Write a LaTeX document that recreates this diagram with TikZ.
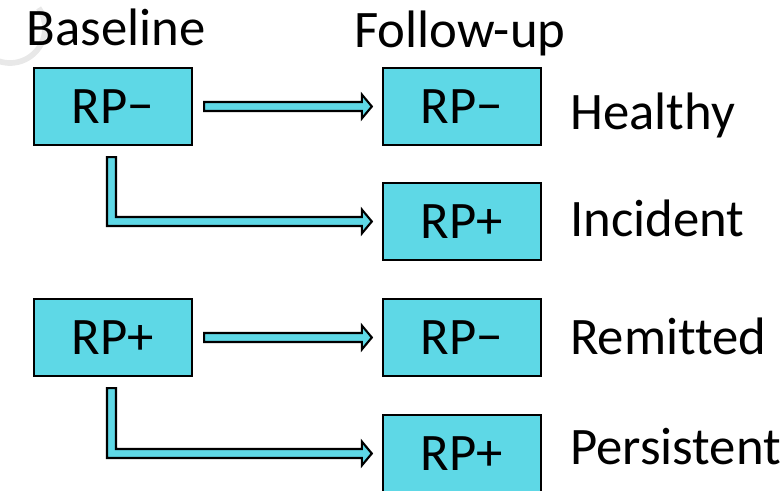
\documentclass[tikz,border=0pt]{standalone}
\usepackage{fontspec}
\setmainfont{Carlito}[Ligatures=NoCommon]
\usetikzlibrary{calc}
\definecolor{rpcyan}{RGB}{94,216,230}

\begin{document}
\begin{tikzpicture}

  % Definitions
  \tikzstyle{rp} = [rectangle, minimum width=4.74cm, minimum height=2.31cm, text centered, draw=black, line width=2pt, fill=rpcyan, font=\fontsize{45}{52}\selectfont]
  \tikzstyle{head} = [font=\fontsize{45}{52}\selectfont, inner sep=0pt]
  \tikzstyle{lab} = [font=\fontsize{45}{52}\selectfont, inner sep=0pt]
  \tikzstyle{blk} = [draw=black, line width=1.8pt, fill=rpcyan, line join=miter]

  \useasboundingbox (-3.39,3.195) rectangle (20.04,-11.535);

  % faint mark in the corner
  \draw [gray!18, line width=0.17cm] (-3.09,2.355) ++(250:1.05) arc (250:395:1.05);

  \node (b1) [rp] {RP−};
  \node (f1) [rp, right of=b1, xshift=9.47cm] {RP−};
  \node (f2) [rp, below of=f1, yshift=-2.45cm] {RP+};
  \node (f3) [rp, below of=f2, yshift=-2.48cm] {RP−};
  \node (f4) [rp, below of=f3, yshift=-2.48cm] {RP+};
  \node (b3) [rp, left of=f3, xshift=-9.47cm] {RP+};

  \node (base) [head, above of=b1, anchor=base, xshift=0.1cm, yshift=0.815cm] {Baseline};
  \node (foll) [head, above of=f1, anchor=base, xshift=-0.06cm, yshift=0.77cm] {Follow-up};

  \node (healthy) [lab, right of=f1, anchor=base west, xshift=2.24cm, yshift=-0.705cm] {Healthy};
  \node (incident) [lab, right of=f2, anchor=base west, xshift=2.24cm, yshift=-0.465cm] {Incident};
  \node (remitted) [lab, right of=f3, anchor=base west, xshift=2.24cm, yshift=-0.525cm] {Remitted};
  \node (persist) [lab, right of=f4, anchor=base west, xshift=2.24cm, yshift=-0.345cm] {Persistent};

  % straight arrows
  \draw [blk] ($(b1.east)+(0.33,0.135)$) -- ($(f1.west)+(-0.6,0.135)$) -- ++(0,0.225)
    -- ($(f1.west)+(-0.3,0)$) -- ($(f1.west)+(-0.6,-0.36)$) -- ++(0,0.225)
    -- ($(b1.east)+(0.33,-0.135)$) -- cycle;
  \draw [blk] ($(b3.east)+(0.33,0.135)$) -- ($(f3.west)+(-0.6,0.135)$) -- ++(0,0.225)
    -- ($(f3.west)+(-0.3,0)$) -- ($(f3.west)+(-0.6,-0.36)$) -- ++(0,0.225)
    -- ($(b3.east)+(0.33,-0.135)$) -- cycle;

  % bent arrows
  \coordinate (k1) at ($(b1.south)+(-0.045,-0.33)$);
  \draw [blk] ($(k1)+(-0.135,0)$) -- ($(k1)+(0.135,0)$) -- ($(k1 |- f2.west)+(0.135,0.135)$)
    -- ($(f2.west)+(-0.6,0.135)$) -- ++(0,0.225)
    -- ($(f2.west)+(-0.3,0)$) -- ($(f2.west)+(-0.6,-0.36)$) -- ++(0,0.225)
    -- ($(k1 |- f2.west)+(-0.135,-0.135)$) -- cycle;
  \coordinate (k3) at ($(b3.south)+(-0.045,-0.33)$);
  \draw [blk] ($(k3)+(-0.135,0)$) -- ($(k3)+(0.135,0)$) -- ($(k3 |- f4.west)+(0.135,0.135)$)
    -- ($(f4.west)+(-0.6,0.135)$) -- ++(0,0.225)
    -- ($(f4.west)+(-0.3,0)$) -- ($(f4.west)+(-0.6,-0.36)$) -- ++(0,0.225)
    -- ($(k3 |- f4.west)+(-0.135,-0.135)$) -- cycle;

\end{tikzpicture}
\end{document}
